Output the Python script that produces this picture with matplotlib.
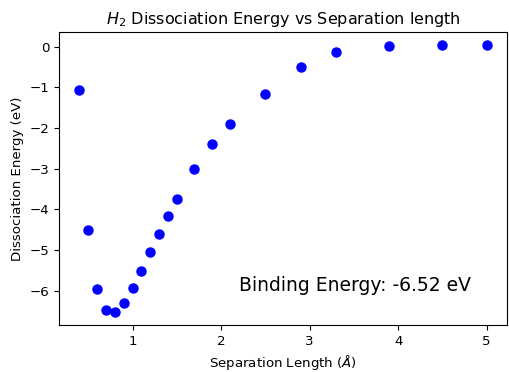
import matplotlib
matplotlib.use("Agg")
import matplotlib.pyplot as plt

# separation (angstrom) and dissociation energy (eV)
separation = [0.4, 0.5, 0.6, 0.7, 0.8, 0.9, 1.0, 1.1, 1.2, 1.3, 1.4, 1.5,
              1.7, 1.9, 2.1, 2.5, 2.9, 3.3, 3.9, 4.5, 5.0]
energy = [-1.07, -4.50, -5.97, -6.48, -6.52, -6.30, -5.94, -5.51, -5.05,
          -4.60, -4.17, -3.75, -3.01, -2.39, -1.89, -1.16, -0.51, -0.14,
          0.01, 0.035, 0.035]
binding_energy = min(energy)

fig = plt.figure(figsize=(5.09, 3.72), dpi=100)
ax = fig.add_axes([0.116, 0.126, 0.88, 0.788])

ax.plot(separation, energy, "bo", markersize=6.5)
ax.text(2.2, -6.0, f"Binding Energy: {binding_energy:.2f} eV", fontsize=13.5)

ax.set_title(r"$H_2$ Dissociation Energy vs Separation length", fontsize=11.5)
ax.set_xlabel(r"Separation Length ($\AA$)", fontsize=9.6)
ax.set_ylabel("Dissociation Energy (eV)", fontsize=9.6)
ax.tick_params(labelsize=9.6)

fig.savefig("out.png", dpi=100)
